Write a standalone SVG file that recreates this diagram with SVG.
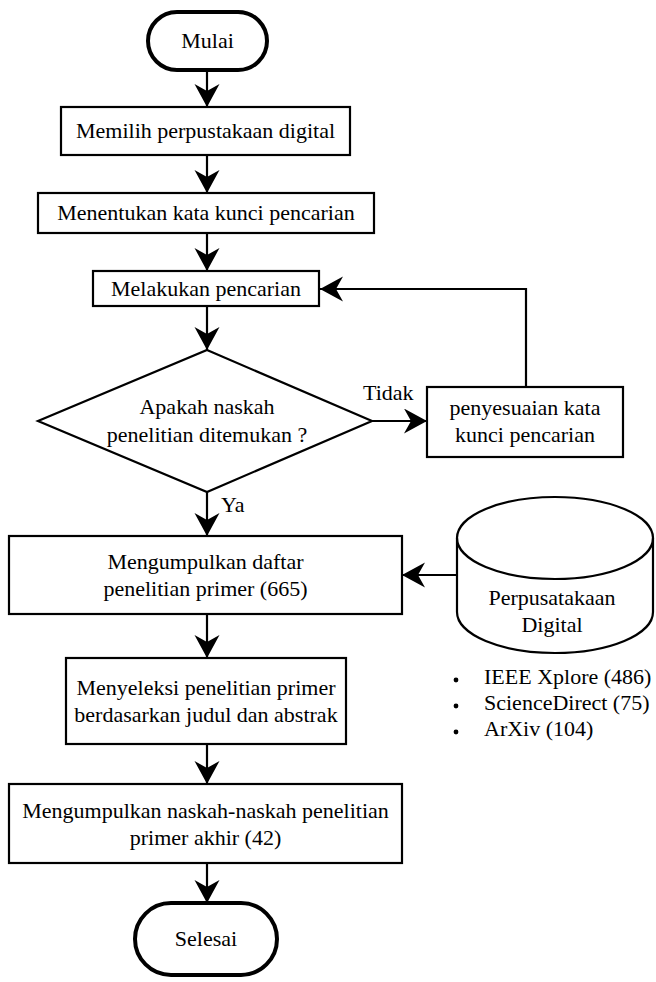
<svg xmlns="http://www.w3.org/2000/svg" width="656" height="982" viewBox="0 0 656 982">
<defs>
<style>
text{font-family:"Liberation Serif","Times New Roman",serif;font-size:22px;fill:#000;text-anchor:middle}
.box{fill:#fff;stroke:#000;stroke-width:2.2}
.term{fill:#fff;stroke:#000;stroke-width:4}
.edge{fill:none;stroke:#000;stroke-width:2.2}
.lbl{text-anchor:start}
.dot{fill:#000}
</style>
<marker id="arr" markerUnits="userSpaceOnUse" markerWidth="24" markerHeight="26" refX="23" refY="12.5" orient="auto">
<path d="M0,0 L23,12.5 L0,25 L7,12.5 Z" fill="#000"/>
</marker>
</defs>
<rect width="656" height="982" fill="#fff"/>
<g id="connectors">
<path class="edge" d="M207,72 V107" marker-end="url(#arr)"/>
<path class="edge" d="M207,155 V193" marker-end="url(#arr)"/>
<path class="edge" d="M207,233 V271" marker-end="url(#arr)"/>
<path class="edge" d="M207,306 V350" marker-end="url(#arr)"/>
<path class="edge" d="M372,421 H427" marker-end="url(#arr)"/>
<text class="lbl" x="363" y="400">Tidak</text>
<path class="edge" d="M526,387 V289 H320" marker-end="url(#arr)"/>
<path class="edge" d="M207,492 V536" marker-end="url(#arr)"/>
<text class="lbl" x="221" y="512">Ya</text>
<path class="edge" d="M457,575 H402" marker-end="url(#arr)"/>
<path class="edge" d="M207,614 V658" marker-end="url(#arr)"/>
<path class="edge" d="M207,744 V784" marker-end="url(#arr)"/>
<path class="edge" d="M207,863 V903" marker-end="url(#arr)"/>
</g>
<g id="mulai">
<rect class="term" x="148" y="12" width="119" height="58" rx="29" ry="29"/>
<text x="207.5" y="48">Mulai</text>
</g>
<g id="memilih">
<rect class="box" x="61" y="107" width="289" height="48"/>
<text x="205.5" y="138">Memilih perpustakaan digital</text>
</g>
<g id="menentukan">
<rect class="box" x="38" y="193" width="336" height="40"/>
<text x="206" y="220">Menentukan kata kunci pencarian</text>
</g>
<g id="melakukan">
<rect class="box" x="93" y="271" width="226" height="35"/>
<text x="206" y="296">Melakukan pencarian</text>
</g>
<g id="keputusan">
<polygon class="box" points="207,350 372,421 207,492 38,421"/>
<text x="207" y="414">Apakah naskah</text>
<text x="207" y="442">penelitian ditemukan ?</text>
</g>
<g id="penyesuaian">
<rect class="box" x="427" y="387" width="196" height="70"/>
<text x="525" y="415">penyesuaian kata</text>
<text x="525" y="442">kunci pencarian</text>
</g>
<g id="mengumpulkan-daftar">
<rect class="box" x="9" y="536" width="393" height="78"/>
<text x="205.5" y="569">Mengumpulkan daftar</text>
<text x="205.5" y="596">penelitian primer (665)</text>
</g>
<g id="perpustakaan-digital">
<path class="box" d="M457,538 A98,41 0 0 1 653,538 V612 A98,41 0 0 1 457,612 Z"/>
<path class="edge" d="M457,538 A98,41 0 0 0 653,538"/>
<text x="552" y="605">Perpusatakaan</text>
<text x="552" y="632">Digital</text>
</g>
<g id="daftar-sumber">
<circle class="dot" cx="456" cy="680" r="2.4"/>
<circle class="dot" cx="456" cy="706" r="2.4"/>
<circle class="dot" cx="456" cy="732" r="2.4"/>
<text class="lbl" x="484" y="684">IEEE Xplore (486)</text>
<text class="lbl" x="484" y="710">ScienceDirect (75)</text>
<text class="lbl" x="484" y="736">ArXiv (104)</text>
</g>
<g id="menyeleksi">
<rect class="box" x="66" y="658" width="280" height="86"/>
<text x="206" y="695">Menyeleksi penelitian primer</text>
<text x="206" y="722">berdasarkan judul dan abstrak</text>
</g>
<g id="mengumpulkan-naskah">
<rect class="box" x="9" y="784" width="393" height="79"/>
<text x="205.5" y="818">Mengumpulkan naskah-naskah penelitian</text>
<text x="205.5" y="845">primer akhir (42)</text>
</g>
<g id="selesai">
<rect class="term" x="135" y="903" width="142" height="72" rx="36" ry="36"/>
<text x="206" y="946">Selesai</text>
</g>
</svg>
